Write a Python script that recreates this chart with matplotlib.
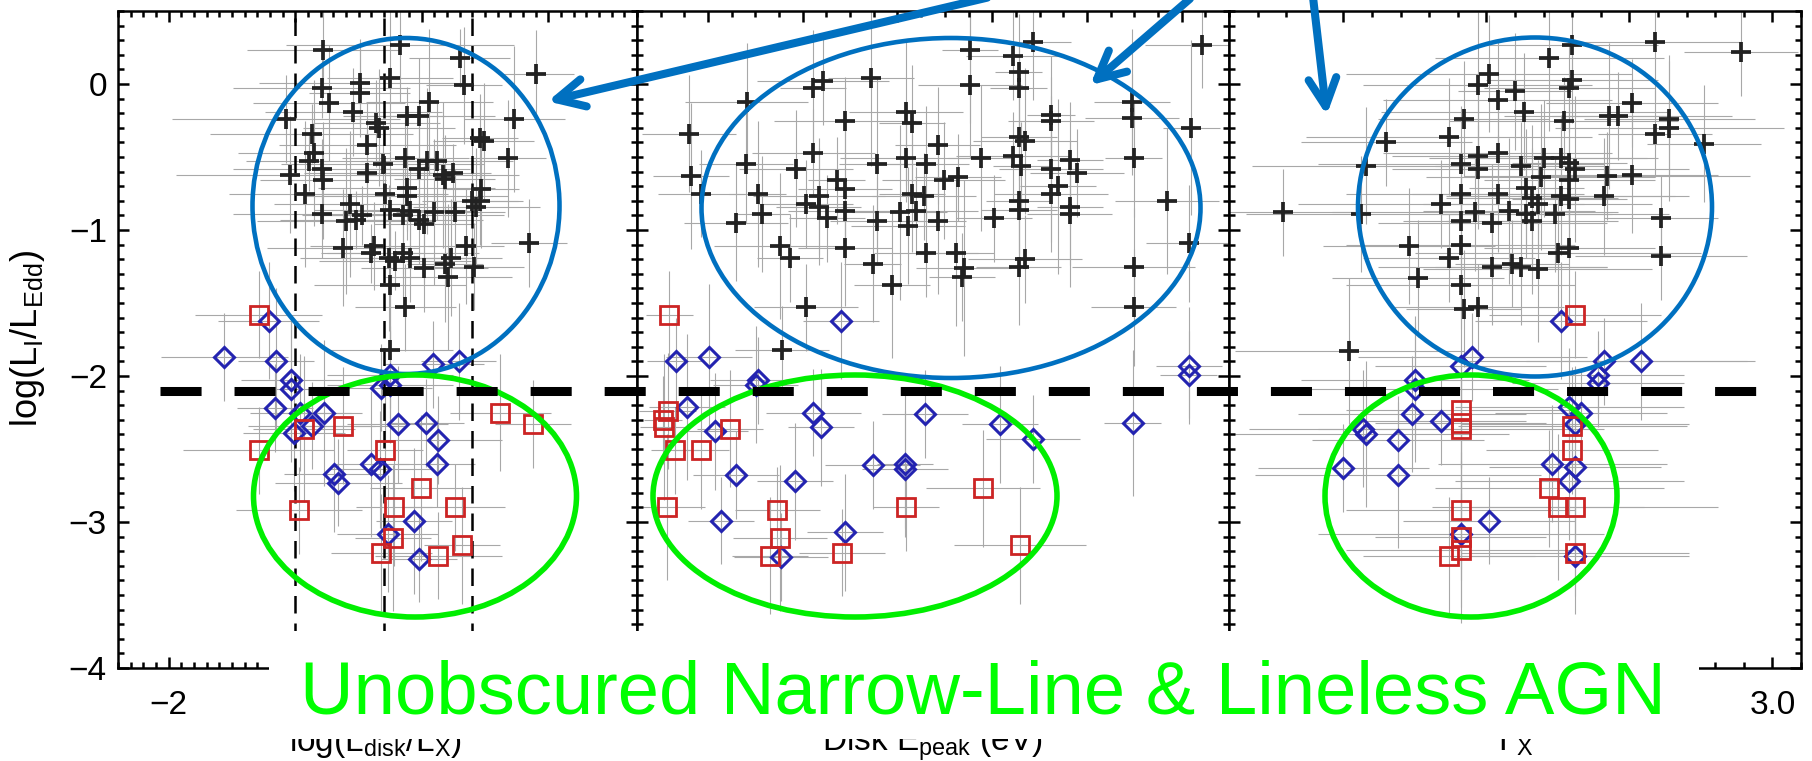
import matplotlib
matplotlib.use("Agg")
import matplotlib.pyplot as plt
from matplotlib.ticker import MultipleLocator
from matplotlib.patches import Ellipse, Rectangle, FancyArrowPatch
from matplotlib.lines import Line2D

plt.rcParams['font.family'] = ['Liberation Sans', 'DejaVu Sans']
plt.rcParams['mathtext.fontset'] = 'custom'
plt.rcParams['mathtext.rm'] = 'Liberation Sans'
plt.rcParams['mathtext.it'] = 'Liberation Sans'

# ---------------- data ----------------
# panel 1: log(L_disk/L_X)
p1_cross_x = [-0.78, -0.17, 0.30, 0.90, -0.25, -0.49, 0.33, -0.79, -0.49, -0.73,
              0.06, -0.54, -0.12, -0.02, -1.07, 0.73, -0.36, -0.34, -0.87, 0.46,
              0.49, -0.43, -0.85, -0.89, 0.68, -0.31, -0.13, 0.04, 0.12, -0.79,
              -0.43, -1.04, -0.02, 0.17, 0.25, -0.78, 0.18, 0.47, -0.12, -0.92,
              -0.29, -0.12, 0.40, 0.46, -0.57, 0.43, -0.79, -0.47, -0.25, -0.09,
              0.10, 0.26, -0.15, -0.52, -0.02, 0.02, -0.60, 0.85, -0.62, -0.38,
              -0.40, 0.35, -0.15, -0.26, -0.09, 0.23, -0.21, 0.02, 0.18, 0.41,
              0.21, -0.25, -0.13, -0.25]
p1_cross_y = [0.23, 0.27, 0.18, 0.07, 0.04, 0.01, -0.01, -0.03, -0.06, -0.13,
              -0.12, -0.19, -0.22, -0.22, -0.24, -0.24, -0.27, -0.30, -0.34, -0.37,
              -0.39, -0.42, -0.47, -0.53, -0.51, -0.55, -0.51, -0.53, -0.53, -0.58,
              -0.61, -0.62, -0.58, -0.62, -0.61, -0.66, -0.65, -0.72, -0.71, -0.75,
              -0.75, -0.77, -0.80, -0.80, -0.82, -0.84, -0.89, -0.90, -0.86, -0.87,
              -0.88, -0.88, -0.90, -0.93, -0.93, -0.96, -0.94, -1.09, -1.12, -1.11,
              -1.16, -1.11, -1.16, -1.19, -1.19, -1.19, -1.21, -1.26, -1.23, -1.25,
              -1.32, -1.38, -1.53, -1.82]
p1_cross_xerr = [0.6, 0.9, 0.4, 0.3, 0.5, 0.8, 0.3, 0.7, 0.4, 0.6,
                 0.5, 0.7, 0.3, 0.6, 0.9, 0.4, 0.5, 0.6, 0.8, 0.3,
                 0.4, 0.7, 0.6, 0.5, 0.3, 0.8, 0.5, 0.4, 0.6, 0.7,
                 0.5, 0.9, 0.4, 0.6, 0.3, 0.5, 0.4, 0.3, 0.7, 0.6,
                 0.5, 0.8, 0.4, 0.3, 0.6, 0.5, 0.7, 0.4, 0.6, 0.5,
                 0.3, 0.4, 0.8, 0.6, 0.5, 0.4, 0.7, 0.3, 0.6, 0.5,
                 0.4, 0.3, 0.6, 0.7, 0.5, 0.4, 0.6, 0.5, 0.3, 0.4,
                 0.5, 0.6, 0.4, 0.5]
p1_cross_yerr = [0.3, 0.4, 0.2, 0.3, 0.5, 0.3, 0.4, 0.2, 0.3, 0.4,
                 0.5, 0.3, 0.2, 0.4, 0.3, 0.5, 0.3, 0.4, 0.2, 0.3,
                 0.4, 0.3, 0.5, 0.2, 0.4, 0.3, 0.3, 0.5, 0.4, 0.2,
                 0.3, 0.4, 0.3, 0.5, 0.2, 0.4, 0.3, 0.4, 0.3, 0.5,
                 0.2, 0.3, 0.4, 0.3, 0.5, 0.4, 0.3, 0.2, 0.4, 0.3,
                 0.5, 0.3, 0.4, 0.2, 0.3, 0.4, 0.5, 0.3, 0.4, 0.3,
                 0.2, 0.4, 0.3, 0.5, 0.3, 0.4, 0.2, 0.3, 0.4, 0.3,
                 0.5, 0.4, 0.3, 0.4]
p1_diam_x = [-1.21, -1.56, -1.15, 0.09, 0.29, -0.25, -1.03, -1.03, -0.32, -0.25,
             -1.16, -0.96, -0.77, -0.87, -0.19, 0.03, -1.01, 0.13, -0.40, -0.33,
             0.12, -0.69, -0.66, -0.06, -0.27, -0.02]
p1_diam_y = [-1.62, -1.87, -1.90, -1.92, -1.90, -1.99, -2.03, -2.09, -2.08, -2.06,
             -2.22, -2.25, -2.25, -2.34, -2.33, -2.32, -2.39, -2.44, -2.60, -2.64,
             -2.60, -2.67, -2.73, -2.99, -3.08, -3.25]
p1_diam_xerr = [0.4, 0.5, 0.3, 0.4, 0.3, 0.5, 0.4, 0.3, 0.4, 0.5, 0.3, 0.4, 0.3,
                0.5, 0.4, 0.3, 0.4, 0.5, 0.3, 0.4, 0.3, 0.4, 0.5, 0.3, 0.4, 0.3]
p1_diam_yerr = [0.4, 0.3, 0.5, 0.3, 0.4, 0.3, 0.4, 0.5, 0.3, 0.4, 0.3, 0.4, 0.5,
                0.3, 0.4, 0.3, 0.4, 0.3, 0.5, 0.4, 0.3, 0.4, 0.3, 0.5, 0.4, 0.3]
p1_sq_x = [-1.29, 0.62, 0.88, -0.93, -0.62, -1.29, -0.29, -0.01, -0.97, -0.22,
           0.26, -0.23, -0.32, 0.13, 0.32]
p1_sq_y = [-1.58, -2.25, -2.33, -2.36, -2.34, -2.51, -2.51, -2.77, -2.92, -2.90,
           -2.90, -3.11, -3.21, -3.23, -3.16]
p1_sq_xerr = [0.5, 0.4, 0.3, 0.4, 0.5, 0.6, 0.3, 0.4, 0.5, 0.3, 0.4, 0.3, 0.4, 0.5, 0.3]
p1_sq_yerr = [0.3, 0.4, 0.3, 0.5, 0.4, 0.3, 0.4, 0.5, 0.3, 0.4, 0.3, 0.5, 0.4, 0.3, 0.4]
p1_vlines = [-1.0, -0.3, 0.4]
p1_xticks = [-2, -1, 0, 1]
p1_xticklabels = ['\u22122', '\u22121', '0', '1']

# panel 2: disk E_peak (eV)
p2_cross_x = [88.6, 124.3, 75.3, 84.4, 85.6, 54.4, 44.3, 42.2, 75.3, 85.6,
              28.2, 109.5, 109.5, 92.4, 92.4, 61.8, 63.1, 48.9, 122.0, 16.0,
              85.6, 86.9, 68.5, 42.2, 109.9, 77.6, 84.4, 28.0, 55.7, 61.8,
              66.0, 86.1, 92.4, 96.4, 97.9, 38.6, 16.4, 72.8, 69.8, 47.2,
              48.9, 63.1, 65.6, 93.9, 92.4, 18.5, 30.5, 43.4, 40.7, 85.6,
              85.6, 116.9, 43.4, 48.9, 31.4, 60.5, 63.9, 96.4, 96.4, 45.1,
              25.9, 55.7, 68.5, 62.2, 80.4, 121.5, 35.2, 37.3, 48.9, 66.0,
              72.3, 54.8, 86.9, 85.6, 74.0, 73.6, 109.9, 58.8, 40.7, 109.9,
              35.6]
p2_cross_y = [0.29, 0.27, 0.23, 0.19, 0.08, 0.04, 0.02, -0.03, -0.01, -0.03,
              -0.12, -0.12, -0.23, -0.21, -0.25, -0.19, -0.27, -0.25, -0.30, -0.34,
              -0.36, -0.39, -0.42, -0.47, -0.51, -0.51, -0.49, -0.55, -0.55, -0.51,
              -0.55, -0.56, -0.58, -0.52, -0.61, -0.58, -0.63, -0.64, -0.66, -0.66,
              -0.72, -0.75, -0.77, -0.70, -0.75, -0.75, -0.75, -0.77, -0.82, -0.80,
              -0.86, -0.80, -0.84, -0.87, -0.89, -0.88, -0.87, -0.84, -0.89, -0.92,
              -0.95, -0.94, -0.94, -0.97, -0.92, -1.09, -1.11, -1.19, -1.12, -1.16,
              -1.16, -1.23, -1.20, -1.25, -1.26, -1.32, -1.25, -1.38, -1.53, -1.53,
              -1.82]
p2_cross_xerr = [8, 12, 6, 10, 5, 9, 14, 7, 11, 6,
                 13, 8, 10, 5, 9, 12, 7, 15, 6, 10,
                 8, 11, 9, 13, 6, 7, 12, 10, 8, 14,
                 9, 6, 11, 7, 10, 12, 8, 9, 13, 6,
                 10, 7, 11, 8, 12, 9, 6, 14, 10, 7,
                 8, 11, 9, 12, 6, 10, 13, 7, 9, 8,
                 11, 10, 6, 12, 8, 9, 14, 7, 10, 11,
                 8, 6, 12, 9, 10, 7, 13, 8, 11, 9,
                 10]
p2_cross_yerr = [0.4, 0.3, 0.5, 0.3, 0.4, 0.6, 0.3, 0.4, 0.5, 0.3,
                 0.4, 0.5, 0.3, 0.4, 0.3, 0.5, 0.4, 0.3, 0.6, 0.4,
                 0.3, 0.5, 0.4, 0.3, 0.4, 0.5, 0.3, 0.4, 0.6, 0.3,
                 0.4, 0.3, 0.5, 0.4, 0.3, 0.4, 0.5, 0.3, 0.4, 0.3,
                 0.5, 0.4, 0.3, 0.6, 0.4, 0.3, 0.5, 0.4, 0.3, 0.4,
                 0.3, 0.5, 0.4, 0.3, 0.4, 0.6, 0.3, 0.4, 0.5, 0.3,
                 0.4, 0.3, 0.5, 0.4, 0.3, 0.4, 0.5, 0.3, 0.4, 0.3,
                 0.5, 0.4, 0.3, 0.4, 0.6, 0.3, 0.4, 0.5, 0.3, 0.4,
                 0.3]
p2_diam_x = [48.1, 13.2, 20.2, 30.5, 121.5, 121.5, 30.1, 15.6, 42.2, 43.8,
             65.8, 81.6, 109.7, 88.6, 21.5, 25.9, 38.4, 54.8, 61.6, 61.6,
             22.7, 48.9, 35.4]
p2_diam_y = [-1.62, -1.90, -1.87, -2.03, -1.93, -1.99, -2.06, -2.21, -2.25, -2.35,
             -2.26, -2.33, -2.32, -2.43, -2.38, -2.68, -2.72, -2.61, -2.60, -2.64,
             -2.99, -3.07, -3.24]
p2_diam_xerr = [8, 6, 9, 10, 7, 6, 9, 8, 10, 7, 9, 8, 6, 10, 7, 9, 8, 10, 6, 9, 7, 8, 10]
p2_diam_yerr = [0.4, 0.3, 0.5, 0.3, 0.4, 0.3, 0.4, 0.5, 0.3, 0.4, 0.3, 0.4,
                0.5, 0.3, 0.4, 0.3, 0.4, 0.3, 0.5, 0.4, 0.3, 0.4, 0.3]
p2_sq_x = [11.8, 11.5, 10.5, 10.7, 24.6, 13.0, 18.5, 11.3, 34.6, 78.0,
           61.8, 35.2, 33.1, 48.3, 85.9]
p2_sq_y = [-1.58, -2.24, -2.30, -2.35, -2.36, -2.51, -2.51, -2.90, -2.92, -2.77,
           -2.90, -3.11, -3.23, -3.21, -3.16]
p2_sq_xerr = [5, 6, 4, 5, 7, 5, 6, 8, 9, 12, 7, 10, 8, 9, 14]
p2_sq_yerr = [0.3, 0.4, 0.3, 0.5, 0.4, 0.3, 0.4, 0.5, 0.3, 0.4, 0.3, 0.5, 0.4, 0.3, 0.4]
p2_xticks = [20, 40, 60, 80, 100, 120]

# panel 3: Gamma_X
p3_cross_x = [2.59, 2.89, 2.22, 2.30, 2.01, 2.30, 1.97, 2.10, 2.29, 2.04,
              2.51, 2.13, 2.43, 2.46, 1.92, 2.27, 2.64, 2.59, 2.64, 1.87,
              1.65, 2.76, 2.04, 1.97, 1.91, 1.97, 2.20, 2.26, 2.29, 2.31,
              2.12, 1.58, 2.42, 2.51, 2.19, 2.29, 2.14, 1.91, 2.04, 1.84,
              2.16, 2.26, 2.29, 2.41, 2.18, 2.08, 1.96, 2.14, 2.24, 1.91,
              2.02, 2.16, 1.29, 1.56, 2.61, 1.73, 1.91, 2.29, 2.25, 1.87,
              2.02, 2.09, 2.12, 2.18, 2.61, 1.76, 1.91, 1.92, 1.97, 1.52]
p3_cross_y = [0.29, 0.22, 0.18, 0.27, 0.07, 0.03, -0.01, -0.05, -0.03, -0.11,
              -0.13, -0.19, -0.22, -0.22, -0.24, -0.25, -0.24, -0.34, -0.30, -0.36,
              -0.40, -0.41, -0.47, -0.49, -0.55, -0.58, -0.51, -0.51, -0.54, -0.58,
              -0.56, -0.56, -0.63, -0.62, -0.64, -0.66, -0.71, -0.75, -0.75, -0.82,
              -0.78, -0.77, -0.79, -0.77, -0.82, -0.87, -0.88, -0.89, -0.89, -0.94,
              -0.95, -0.94, -0.88, -0.89, -0.92, -1.11, -1.10, -1.12, -1.16, -1.19,
              -1.25, -1.23, -1.25, -1.27, -1.18, -1.33, -1.38, -1.54, -1.53, -1.83]
p3_cross_xerr = [0.3, 0.2, 0.4, 0.3, 0.5, 0.3, 0.4, 0.2, 0.3, 0.4,
                 0.3, 0.5, 0.2, 0.4, 0.3, 0.4, 0.3, 0.2, 0.4, 0.5,
                 0.3, 0.2, 0.4, 0.3, 0.5, 0.3, 0.4, 0.3, 0.2, 0.4,
                 0.3, 0.4, 0.5, 0.3, 0.4, 0.3, 0.2, 0.4, 0.3, 0.5,
                 0.3, 0.4, 0.2, 0.3, 0.4, 0.3, 0.5, 0.3, 0.4, 0.2,
                 0.4, 0.3, 0.3, 0.4, 0.2, 0.3, 0.4, 0.3, 0.5, 0.3,
                 0.4, 0.2, 0.3, 0.4, 0.3, 0.3, 0.4, 0.2, 0.3, 0.4]
p3_cross_yerr = [0.4, 0.3, 0.5, 0.3, 0.4, 0.3, 0.5, 0.4, 0.3, 0.4,
                 0.3, 0.4, 0.5, 0.3, 0.4, 0.3, 0.4, 0.3, 0.5, 0.4,
                 0.3, 0.4, 0.3, 0.5, 0.4, 0.3, 0.4, 0.3, 0.4, 0.5,
                 0.3, 0.4, 0.3, 0.4, 0.5, 0.3, 0.4, 0.3, 0.4, 0.3,
                 0.5, 0.4, 0.3, 0.4, 0.3, 0.5, 0.4, 0.3, 0.4, 0.3,
                 0.4, 0.5, 0.3, 0.4, 0.3, 0.4, 0.3, 0.5, 0.4, 0.3,
                 0.4, 0.3, 0.4, 0.5, 0.3, 0.4, 0.3, 0.4, 0.3, 0.5]
p3_diam_x = [2.26, 1.95, 1.91, 2.41, 2.54, 2.39, 1.75, 1.75, 2.39, 1.74,
             1.84, 1.57, 1.58, 1.69, 2.29, 2.33, 2.31, 1.50, 1.69, 2.23,
             2.31, 2.29, 2.01, 1.91, 2.31]
p3_diam_y = [-1.62, -1.87, -1.93, -1.90, -1.90, -1.99, -2.03, -2.09, -2.05, -2.26,
             -2.31, -2.36, -2.40, -2.44, -2.21, -2.25, -2.33, -2.63, -2.68, -2.60,
             -2.62, -2.72, -2.99, -3.08, -3.23]
p3_diam_xerr = [0.3, 0.4, 0.3, 0.5, 0.4, 0.3, 0.4, 0.5, 0.3, 0.4, 0.3, 0.4, 0.5,
                0.3, 0.4, 0.3, 0.4, 0.3, 0.5, 0.4, 0.3, 0.4, 0.3, 0.5, 0.4]
p3_diam_yerr = [0.4, 0.3, 0.5, 0.3, 0.4, 0.3, 0.4, 0.5, 0.3, 0.4, 0.3, 0.4, 0.5,
                0.3, 0.4, 0.3, 0.4, 0.3, 0.5, 0.4, 0.3, 0.4, 0.3, 0.5, 0.4]
p3_sq_x = [2.31, 1.91, 1.91, 1.91, 2.30, 2.30, 2.22, 2.25, 2.31, 1.91,
           1.91, 1.91, 1.87, 2.31]
p3_sq_y = [-1.58, -2.23, -2.32, -2.36, -2.34, -2.51, -2.77, -2.90, -2.90, -2.92,
           -3.10, -3.19, -3.23, -3.21]
p3_sq_xerr = [0.3, 0.4, 0.3, 0.5, 0.4, 0.3, 0.4, 0.3, 0.5, 0.4, 0.3, 0.4, 0.3, 0.4]
p3_sq_yerr = [0.3, 0.4, 0.3, 0.5, 0.4, 0.3, 0.4, 0.5, 0.3, 0.4, 0.3, 0.5, 0.4, 0.3]
p3_xticks = [1.5, 2.0, 2.5, 3.0]
p3_xticklabels = ['1.5', '2.0', '2.5', '3.0']

y_ticks = [-4, -3, -2, -1, 0]
y_ticklabels = ['\u22124', '\u22123', '\u22122', '\u22121', '0']
edd_cut = -2.1

# ---------------- figure ----------------
W, H = 1812, 761
fig = plt.figure(figsize=(W / 100, H / 100), dpi=100)

bot, top = 668, 11
def panel(x0, x1):
    return fig.add_axes([x0 / W, (H - bot) / H, (x1 - x0) / W, (bot - top) / H])

ax1 = panel(118, 637)
ax2 = panel(637, 1229)
ax3 = panel(1229, 1801)

grey = '#a8a8a8'
def draw_group(ax, x, y, xerr, yerr, kind):
    ax.errorbar(x, y, xerr=xerr, yerr=yerr, fmt='none', ecolor=grey,
                elinewidth=0.8, capsize=0, zorder=1)
    if kind == 'cross':
        ax.plot(x, y, ls='none', marker='+', ms=14, mew=2.7, color='#222222', zorder=4)
    elif kind == 'diam':
        ax.plot(x, y, ls='none', marker='D', ms=10, mfc='none', mec='#2323b0',
                mew=2.2, zorder=3)
    else:
        ax.plot(x, y, ls='none', marker='s', ms=13.5, mfc='none', mec='#cc2424',
                mew=2.0, zorder=3)

draw_group(ax1, p1_cross_x, p1_cross_y, p1_cross_xerr, p1_cross_yerr, 'cross')
draw_group(ax1, p1_diam_x, p1_diam_y, p1_diam_xerr, p1_diam_yerr, 'diam')
draw_group(ax1, p1_sq_x, p1_sq_y, p1_sq_xerr, p1_sq_yerr, 'sq')
for v in p1_vlines:
    ax1.axvline(v, color='k', lw=1.8, ls=(0, (7, 4)), zorder=2)

draw_group(ax2, p2_cross_x, p2_cross_y, p2_cross_xerr, p2_cross_yerr, 'cross')
draw_group(ax2, p2_diam_x, p2_diam_y, p2_diam_xerr, p2_diam_yerr, 'diam')
draw_group(ax2, p2_sq_x, p2_sq_y, p2_sq_xerr, p2_sq_yerr, 'sq')

draw_group(ax3, p3_cross_x, p3_cross_y, p3_cross_xerr, p3_cross_yerr, 'cross')
draw_group(ax3, p3_diam_x, p3_diam_y, p3_diam_xerr, p3_diam_yerr, 'diam')
draw_group(ax3, p3_sq_x, p3_sq_y, p3_sq_xerr, p3_sq_yerr, 'sq')

# most x tick labels end up under the caption box, as in the original
ax1.set_xlim(-2.4, 1.7)
ax1.set_xticks(p1_xticks)
ax1.set_xticklabels(p1_xticklabels)
ax1.xaxis.set_minor_locator(MultipleLocator(0.1))

ax2.set_xlim(5, 130)
ax2.set_xticks(p2_xticks)
ax2.xaxis.set_minor_locator(MultipleLocator(5))

ax3.set_xlim(1.1, 3.1)
ax3.set_xticks(p3_xticks)
ax3.set_xticklabels(p3_xticklabels)
ax3.xaxis.set_minor_locator(MultipleLocator(0.1))

for ax in (ax1, ax2, ax3):
    ax.set_ylim(-4, 0.5)
    ax.set_yticks(y_ticks)
    ax.yaxis.set_minor_locator(MultipleLocator(0.1))
    ax.tick_params(which='both', direction='in', top=True, right=True,
                   width=1.8, color='k', labelsize=24)
    ax.tick_params(which='major', length=8)
    ax.tick_params(which='minor', length=4.5)
    ax.tick_params(axis='x', pad=16)
    ax.tick_params(axis='y', pad=8)
    for s in ax.spines.values():
        s.set_linewidth(1.8)
ax1.set_yticklabels(y_ticklabels)
ax2.set_yticklabels([])
ax3.set_yticklabels([])

fig.text(28 / W, 1 - 338 / H, 'log(L$_\\mathrm{I}$/L$_\\mathrm{Edd}$)', rotation=90,
         ha='center', va='center', fontsize=26)
fig.text(375 / W, 1 - 751 / H, 'log(L$_\\mathrm{disk}$/L$_\\mathrm{X}$)',
         ha='center', va='baseline', fontsize=24)
fig.text(932 / W, 1 - 751 / H, 'Disk E$_\\mathrm{peak}$ (eV)',
         ha='center', va='baseline', fontsize=24)
fig.text(1516 / W, 1 - 751 / H, '\u0393$_\\mathrm{X}$',
         ha='center', va='baseline', fontsize=24)

# ---------------- annotation overlay (pixel coordinates) ----------------
ov = fig.add_axes([0, 0, 1, 1], zorder=10)
ov.set_xlim(0, W)
ov.set_ylim(H, 0)
ov.axis('off')

# Eddington-ratio cut, drawn across all three panels
y_cut = ax1.transData.transform((0, edd_cut))[1]
ov.add_line(Line2D([160, 1760], [H - y_cut, H - y_cut], color='k', lw=6.5,
                   ls=(0, (4.55, 3.65)), solid_capstyle='butt'))

blue = '#0070c0'
green = '#00ee00'
for cx, cy, w, h in [(406, 206, 307, 336), (951, 208, 499, 340), (1535, 207, 354, 339)]:
    ov.add_patch(Ellipse((cx, cy), w, h, fill=False, ec=blue, lw=3.3))
for cx, cy, w, h in [(415, 496, 323, 242), (855, 496, 404, 242), (1471, 496, 292, 242)]:
    ov.add_patch(Ellipse((cx, cy), w, h, fill=False, ec=green, lw=4.0))

for (xa, ya), (xb, yb) in [((990, -3), (545, 102)), ((1192, -3), (1088, 87)),
                           ((1313, -3), (1327, 118))]:
    arr = FancyArrowPatch((xa, ya), (xb, yb),
                          arrowstyle='->,head_length=20,head_width=10',
                          mutation_scale=1, color=blue, lw=5.8,
                          capstyle='round', joinstyle='round')
    ov.add_patch(arr)

ov.add_patch(Rectangle((269, 631), 1699 - 269, 739 - 631, fc='white', ec='none', zorder=5))
ov.text(983, 713, 'Unobscured Narrow-Line & Lineless AGN', color='#00ff00',
        fontsize=53.5, family='Liberation Sans', ha='center', va='baseline', zorder=6)

fig.savefig('out.png', dpi=100)
